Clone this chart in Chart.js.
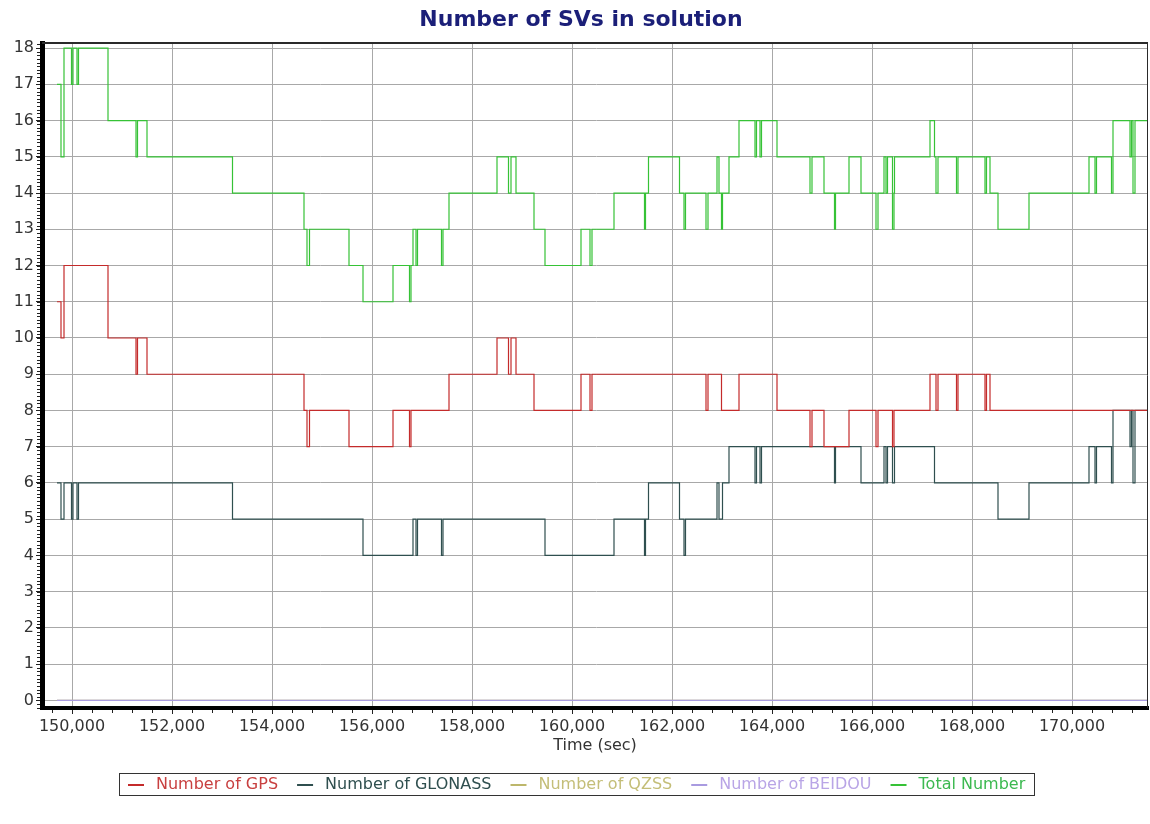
<!DOCTYPE html>
<html>
<head>
<meta charset="utf-8">
<title>Number of SVs in solution</title>
<script src="https://cdn.jsdelivr.net/npm/chart.js@4.4.1/dist/chart.umd.min.js"></script>
<style>
  html, body { margin: 0; padding: 0; background: #fff; }
  #wrap { width: 1150px; height: 824px; }
</style>
</head>
<body>
<div id="wrap"><canvas id="svChart" width="1150" height="824"></canvas></div>
<script>
// ===== Number of SVs in solution =====

const CHART_TITLE = 'Number of SVs in solution';
const X_TITLE = 'Time (sec)';

// tick labels
const xTickValues = [150000, 152000, 154000, 156000, 158000, 160000, 162000, 164000, 166000, 168000, 170000];
const yTickValues = [0, 1, 2, 3, 4, 5, 6, 7, 8, 9, 10, 11, 12, 13, 14, 15, 16, 17, 18];

// [time (sec), count] – value holds until the next entry
const gpsSteps = [
  [149700, 11], [149780, 10], [149840, 12], [150720, 10], [151280, 9], [151310, 10],
  [151500, 9], [154640, 8], [154700, 7], [154750, 8], [155540, 7], [156420, 8],
  [156750, 7], [156780, 8], [157540, 9], [158500, 10], [158730, 9], [158780, 10],
  [158880, 9], [159240, 8], [160180, 9], [160360, 8], [160400, 9], [162680, 8],
  [162720, 9], [162990, 8], [163340, 9], [164100, 8], [164760, 7], [164800, 8],
  [165040, 7], [165540, 8], [166080, 7], [166120, 8], [166410, 7], [166440, 8],
  [167160, 9], [167280, 8], [167320, 9], [167690, 8], [167720, 9], [168260, 8],
  [168290, 9], [168360, 8], [171500, 8],
];

const glonassSteps = [
  [149700, 6], [149780, 5], [149840, 6], [149990, 5], [150020, 6], [150100, 5],
  [150130, 6], [153210, 5], [155820, 4], [156820, 5], [156880, 4], [156910, 5],
  [157390, 4], [157420, 5], [159460, 4], [160840, 5], [161450, 4], [161470, 5],
  [161530, 6], [162150, 5], [162240, 4], [162270, 5], [162900, 6], [162940, 5],
  [163010, 6], [163140, 7], [163660, 6], [163690, 7], [163760, 6], [163790, 7],
  [165250, 6], [165270, 7], [165780, 6], [166240, 7], [166280, 6], [166310, 7],
  [166410, 6], [166450, 7], [167250, 6], [168520, 5], [169140, 6], [170340, 7],
  [170460, 6], [170490, 7], [170790, 6], [170820, 8], [171160, 7], [171190, 8],
  [171220, 6], [171260, 8], [171500, 8],
];

const qzssSteps = [[149700, 0], [171500, 0]];
const beidouSteps = [[149700, 0], [171500, 0]];

const totalSteps = [
  [149700, 17], [149780, 15], [149840, 18], [149990, 17], [150020, 18], [150100, 17],
  [150130, 18], [150720, 16], [151280, 15], [151310, 16], [151500, 15], [153210, 14],
  [154640, 13], [154700, 12], [154750, 13], [155540, 12], [155820, 11], [156420, 12],
  [156750, 11], [156780, 12], [156820, 13], [156880, 12], [156910, 13], [157390, 12],
  [157420, 13], [157540, 14], [158500, 15], [158730, 14], [158780, 15], [158880, 14],
  [159240, 13], [159460, 12], [160180, 13], [160360, 12], [160400, 13], [160840, 14],
  [161450, 13], [161470, 14], [161530, 15], [162150, 14], [162240, 13], [162270, 14],
  [162680, 13], [162720, 14], [162900, 15], [162940, 14], [162990, 13], [163010, 14],
  [163140, 15], [163340, 16], [163660, 15], [163690, 16], [163760, 15], [163790, 16],
  [164100, 15], [164760, 14], [164800, 15], [165040, 14], [165250, 13], [165270, 14],
  [165540, 15], [165780, 14], [166080, 13], [166120, 14], [166240, 15], [166280, 14],
  [166310, 15], [166410, 13], [166440, 14], [166450, 15], [167160, 16], [167250, 15],
  [167280, 14], [167320, 15], [167690, 14], [167720, 15], [168260, 14], [168290, 15],
  [168360, 14], [168520, 13], [169140, 14], [170340, 15], [170460, 14], [170490, 15],
  [170790, 14], [170820, 16], [171160, 15], [171190, 16], [171220, 14], [171260, 16],
  [171500, 16],
];

const seriesNames  = ['Number of GPS', 'Number of GLONASS', 'Number of QZSS', 'Number of BEIDOU', 'Total Number'];
const seriesSteps  = [gpsSteps, glonassSteps, qzssSteps, beidouSteps, totalSteps];
const seriesOrder  = [2, 3, 4, 1, 5]; // BEIDOU drawn over QZSS at zero
const lineColors   = ['#c42b2b', '#2f4f4f', '#bdb76b', '#a99be0', '#36c236'];
const legendColors = ['#c84040', '#2f4f4f', '#c4be78', '#b9a5e6', '#3cb950'];

const FONT = '"DejaVu Sans", Verdana, sans-serif';
const X_MIN = 149400, X_MAX = 171520;
const Y_MIN = -0.21, Y_MAX = 18.14;

// ---- Extra drawing: title, frame, minor ticks, boxed legend ----
const decorPlugin = {
  id: 'decor',
  afterDraw(chart) {
    const { ctx, chartArea: area } = chart;
    const xs = chart.scales.x, ys = chart.scales.y;
    ctx.save();

    // title
    ctx.font = `bold 22px ${FONT}`;
    ctx.fillStyle = '#1b1f78';
    ctx.textAlign = 'center';
    ctx.textBaseline = 'middle';
    ctx.fillText(CHART_TITLE, 581, 20);

    // frame top / right
    ctx.strokeStyle = '#2a2a2a';
    ctx.lineWidth = 2;
    ctx.beginPath();
    ctx.moveTo(area.left, area.top);
    ctx.lineTo(area.right, area.top);
    ctx.stroke();
    ctx.lineWidth = 1;
    ctx.beginPath();
    ctx.moveTo(area.right - 0.5, area.top);
    ctx.lineTo(area.right - 0.5, area.bottom);
    ctx.stroke();

    // minor ticks
    ctx.strokeStyle = '#222';
    ctx.lineWidth = 1;
    ctx.beginPath();
    for (let t = 149600; t <= X_MAX; t += 400) {
      if (t % 2000 === 0) continue;
      const px = Math.round(xs.getPixelForValue(t)) + 0.5;
      ctx.moveTo(px, area.bottom + 2);
      ctx.lineTo(px, area.bottom + 5);
    }
    for (let i = -2; i <= 181; i++) {
      const py = Math.round(ys.getPixelForValue(i / 10)) + 0.5;
      ctx.moveTo(area.left - 5, py);
      ctx.lineTo(area.left - 2, py);
    }
    ctx.stroke();

    // legend box
    ctx.font = `16px ${FONT}`;
    ctx.textAlign = 'left';
    const lineLen = 16, gapIn = 12, gapOut = 19, padX = 9;
    const widths = seriesNames.map(n => ctx.measureText(n).width);
    const total = widths.reduce((s, w) => s + lineLen + gapIn + w, 0) + gapOut * (seriesNames.length - 1) + padX * 2;
    const boxLeft = Math.round(577 - total / 2);
    const boxTop = 773, boxH = 22;
    ctx.strokeStyle = '#333';
    ctx.lineWidth = 1;
    ctx.strokeRect(boxLeft + 0.5, boxTop + 0.5, Math.round(total), boxH);
    let x = boxLeft + padX;
    const cy = boxTop + boxH / 2 + 1;
    seriesNames.forEach((name, i) => {
      ctx.strokeStyle = lineColors[i];
      ctx.lineWidth = 2;
      ctx.beginPath();
      ctx.moveTo(x, cy);
      ctx.lineTo(x + lineLen, cy);
      ctx.stroke();
      x += lineLen + gapIn;
      ctx.fillStyle = legendColors[i];
      ctx.fillText(name, x, cy);
      x += widths[i] + gapOut;
    });

    ctx.restore();
  },
};

const datasets = seriesNames.map((name, i) => ({
  label: name,
  data: seriesSteps[i].map(([x, y]) => ({ x, y })),
  borderColor: lineColors[i],
  backgroundColor: lineColors[i],
  borderWidth: 1.2,
  pointRadius: 0,
  stepped: true,
  fill: false,
  order: seriesOrder[i],
}));

new Chart(document.getElementById('svChart'), {
  type: 'line',
  data: { datasets },
  options: {
    responsive: false,
    animation: false,
    events: [],
    layout: { padding: { top: 43, right: 2, left: 0, bottom: 0 } },
    scales: {
      x: {
        type: 'linear',
        min: X_MIN,
        max: X_MAX,
        afterFit(scale) { scale.height = 116; },
        afterBuildTicks(scale) { scale.ticks = xTickValues.map(v => ({ value: v })); },
        ticks: {
          autoSkip: false,
          maxRotation: 0,
          padding: 3,
          color: '#333',
          font: { family: FONT, size: 16 },
          callback: v => v.toLocaleString('en-US'),
        },
        grid: { color: '#a8a8a8', lineWidth: 1, tickLength: 6, tickColor: '#222' },
        border: { color: '#000', width: 4 },
        title: {
          display: true,
          text: X_TITLE,
          color: '#333',
          font: { family: FONT, size: 16 },
          padding: { top: 0, bottom: 69 },
        },
      },
      y: {
        min: Y_MIN,
        max: Y_MAX,
        afterFit(scale) { scale.width = 42; },
        afterBuildTicks(scale) { scale.ticks = yTickValues.map(v => ({ value: v })); },
        ticks: {
          padding: 2,
          color: '#333',
          font: { family: FONT, size: 16 },
        },
        grid: { color: '#a8a8a8', lineWidth: 1, tickLength: 6, tickColor: '#222' },
        border: { color: '#000', width: 5 },
      },
    },
    plugins: {
      legend: { display: false },
      title: { display: false },
      tooltip: { enabled: false },
    },
  },
  plugins: [decorPlugin],
});
</script>
</body>
</html>
